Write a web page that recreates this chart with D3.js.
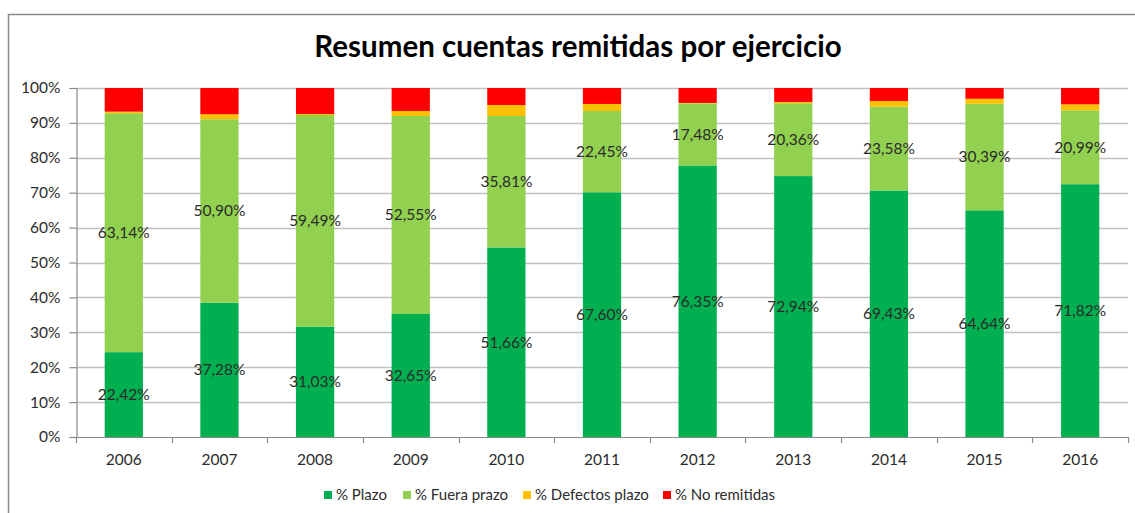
<!DOCTYPE html>
<html lang="es">
<head>
<meta charset="UTF-8">
<title>Resumen cuentas remitidas por ejercicio</title>
<style>
  body { margin: 0; background: #fff; }
  text { font-family: Lato, "Open Sans", sans-serif; fill: #2b2b2b; }
  .title { font-weight: bold; fill: #000; }
</style>
</head>
<body>
<script src="https://d3js.org/d3.v7.min.js"></script>
<script>
// values (Excel 100% stacked, so each year is normalised)
const years = ["2006", "2007", "2008", "2009", "2010", "2011", "2012", "2013", "2014", "2015", "2016"];
const plazo = [22.42, 37.28, 31.03, 32.65, 51.66, 67.60, 76.35, 72.94, 69.43, 64.64, 71.82];
const fueraPrazo = [63.14, 50.90, 59.49, 52.55, 35.81, 22.45, 17.48, 20.36, 23.58, 30.39, 20.99];
const defectosPlazo = [0.42, 1.38, 0.28, 1.32, 3.00, 1.94, 0.10, 0.36, 1.61, 1.42, 1.71];
const noRemitidas = [6.25, 7.30, 7.31, 6.10, 4.63, 4.41, 4.20, 3.90, 3.66, 3.06, 4.63];
const seriesNames = ["% Plazo", "% Fuera prazo", "% Defectos plazo", "% No remitidas"];
const colors = ["#00B050", "#92D050", "#FFC000", "#FF0000"];
const yTicks = [0, 0.1, 0.2, 0.3, 0.4, 0.5, 0.6, 0.7, 0.8, 0.9, 1];

const width = 1135, height = 513;
const keys = ["plazo", "fuera", "defectos", "noRem"];
const table = years.map((y, i) => ({
  year: y, plazo: plazo[i], fuera: fueraPrazo[i], defectos: defectosPlazo[i], noRem: noRemitidas[i]
}));

const es = d3.formatLocale({ decimal: ",", thousands: ".", grouping: [3], currency: ["", " €"] });
const fmtLabel = d => es.format(".2f")(d) + "%";

const svg = d3.select("body").append("svg")
  .attr("width", width)
  .attr("height", height);

// chart frame (cut off at right and bottom in the original)
svg.append("rect")
  .attr("x", 8.5).attr("y", 14.5)
  .attr("width", 1140).attr("height", 520)
  .attr("fill", "none")
  .attr("stroke", "#8a8a8a")
  .attr("stroke-width", 1.5);

svg.append("text")
  .attr("class", "title")
  .attr("x", 578).attr("y", 57)
  .attr("text-anchor", "middle")
  .style("font-size", "29.5px")
  .text("Resumen cuentas remitidas por ejercicio");

const x = d3.scaleBand()
  .domain(years)
  .range([76, 1128])
  .paddingInner(0.6)
  .paddingOuter(0.3);

const y = d3.scaleLinear()
  .domain([0, 1])
  .range([437, 88]);

// gridlines
svg.append("g")
  .selectAll("line")
  .data(yTicks.slice(1))
  .join("line")
  .attr("x1", 76).attr("x2", 1128)
  .attr("y1", d => Math.round(y(d)) + 0.5)
  .attr("y2", d => Math.round(y(d)) + 0.5)
  .attr("stroke", "#c0c0c0")
  .attr("stroke-width", 1.5);

// y axis
const yAxis = svg.append("g")
  .attr("transform", "translate(76.5,0)")
  .call(d3.axisLeft(y).tickValues(yTicks).tickFormat(d3.format(".0%")).tickSize(7).tickPadding(9));
yAxis.select(".domain").attr("stroke", "#8a8a8a").attr("stroke-width", 1.2);
yAxis.selectAll(".tick line").attr("stroke", "#8a8a8a").attr("stroke-width", 1.2);
yAxis.selectAll(".tick text")
  .style("font-size", "15.5px")
  .style("font-family", "Lato, sans-serif")
  .attr("fill", "#2b2b2b");

// bars
const stack = d3.stack().keys(keys).offset(d3.stackOffsetExpand);
const layers = stack(table);

svg.append("g")
  .selectAll("g")
  .data(layers)
  .join("g")
  .attr("fill", (d, i) => colors[i])
  .selectAll("rect")
  .data(d => d)
  .join("rect")
  .attr("x", d => x(d.data.year))
  .attr("y", d => y(d[1]))
  .attr("width", x.bandwidth())
  .attr("height", d => y(d[0]) - y(d[1]));

// x axis line and ticks at category boundaries
svg.append("line")
  .attr("x1", 76).attr("x2", 1128)
  .attr("y1", 437.5).attr("y2", 437.5)
  .attr("stroke", "#8a8a8a")
  .attr("stroke-width", 1.2);

const bounds = years.map(yr => x(yr) - (x.step() - x.bandwidth()) / 2);
bounds.push(1128);
svg.append("g")
  .selectAll("line")
  .data(bounds)
  .join("line")
  .attr("x1", d => Math.round(d) + 0.5)
  .attr("x2", d => Math.round(d) + 0.5)
  .attr("y1", 437).attr("y2", 443)
  .attr("stroke", "#8a8a8a")
  .attr("stroke-width", 1.2);

svg.append("g")
  .selectAll("text")
  .data(years)
  .join("text")
  .attr("x", d => x(d) + x.bandwidth() / 2)
  .attr("y", 465)
  .attr("text-anchor", "middle")
  .style("font-size", "15.5px")
  .text(d => d);

// data labels for the two green series
layers.slice(0, 2).forEach(layer => {
  svg.append("g")
    .selectAll("text")
    .data(layer)
    .join("text")
    .attr("x", d => x(d.data.year) + x.bandwidth() / 2)
    .attr("y", d => (y(d[0]) + y(d[1])) / 2)
    .attr("dy", "0.35em")
    .attr("text-anchor", "middle")
    .style("font-size", "15.5px")
    .text(d => fmtLabel(d.data[layer.key]));
});

// legend
const legendX = [324, 403, 523, 663];
const legend = svg.append("g")
  .selectAll("g")
  .data(seriesNames)
  .join("g")
  .attr("transform", (d, i) => `translate(${legendX[i]},495)`);
legend.append("rect")
  .attr("x", 0).attr("y", -4)
  .attr("width", 8).attr("height", 8)
  .attr("fill", (d, i) => colors[i]);
legend.append("text")
  .attr("x", 12)
  .attr("dy", "0.35em")
  .style("font-size", "15px")
  .text(d => d);
</script>
</body>
</html>
